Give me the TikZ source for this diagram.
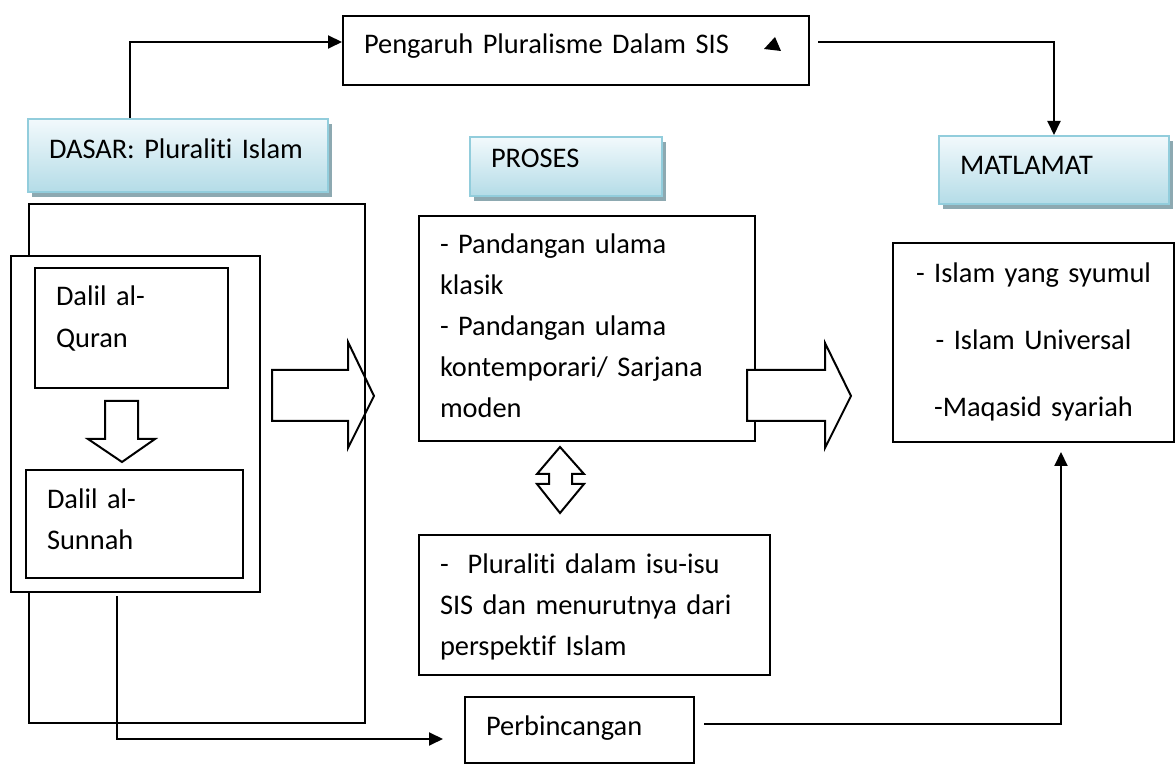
\documentclass[tikz,border=0pt]{standalone}
\usepackage{fontspec}
\setmainfont[Ligatures=NoCommon]{Carlito}
\usetikzlibrary{arrows.meta}
\usetikzlibrary{shadows}
\definecolor{tepi}{HTML}{92CDDC}
\definecolor{atas}{HTML}{F2F9FC}
\definecolor{bawah}{HTML}{B4DCE7}
\definecolor{bayang}{HTML}{8DA9B1}
\tikzset{
  kotak/.style={draw, line width=1pt, fill=white, anchor=north west, inner xsep=10.5pt, inner ysep=0pt,
    text height=19.5pt, align=left, font=\fontsize{14.2}{20.5}\selectfont},
  tajuk/.style={draw=tepi, line width=1pt, top color=atas, bottom color=bawah,
    drop shadow={shadow xshift=2pt, shadow yshift=-2.5pt, fill=bayang, opacity=1},
    anchor=north west, inner xsep=10.5pt, inner ysep=0pt, align=left, font=\fontsize{14.2}{20.5}\selectfont},
  bingkai/.style={draw, line width=1pt, anchor=north west, inner sep=0pt},
  panah/.style={line width=1pt, -{Triangle[length=7pt,width=6.5pt]}},
  blok/.style={line width=1pt, line join=miter}
}

\begin{document}
\begin{tikzpicture}[x=0.5pt,y=-0.5pt]
    \useasboundingbox (0,0) rectangle (1175,764);
    % top box
    \node[kotak, text width=212pt, text height=19pt, text depth=15.5pt] (pengaruh) at (342,15) {Pengaruh Pluralisme Dalam SIS};
    \fill (775,37) -- (764,49) -- (781,51) -- cycle;
    % headings
    \node[tajuk, text width=129pt, text height=20pt, text depth=16.5pt] (dasar) at (27,118) {DASAR: Pluraliti Islam};
    \node[tajuk, text width=75pt, text height=15.5pt, text depth=14pt] (proses) at (469,136) {PROSES};
    \node[tajuk, text width=94pt, text height=19.5pt, text depth=14.5pt] (matlamat) at (938,135) {MATLAMAT};
    % column 1
    \draw[blok] (272,370) -- (348,370) -- (348,342) -- (374,396) -- (348,448) -- (348,421) -- (272,421) -- cycle;
    \node[bingkai, minimum width=168pt, minimum height=259.5pt] (kerangka) at (28,203) {};
    \node[bingkai, fill=white, minimum width=124.5pt, minimum height=168pt] (dalil) at (10,255) {};
    \node[kotak, text width=75.5pt, text height=19pt, text depth=41pt] (quran) at (34,267) {Dalil al-\\[0.5pt]Quran};
    \draw[blok] (105,401) -- (138,401) -- (138,439) -- (155,439) -- (122,462) -- (88,439) -- (105,439) -- cycle;
    \node[kotak, text width=87.5pt, text depth=34.5pt] (sunnah) at (25,469) {Dalil al-\\Sunnah};
    % column 2
    \node[kotak, text width=147pt, text height=19pt, text depth=93.5pt] (pandangan) at (418,215)
        {- Pandangan ulama\\klasik\\- Pandangan ulama\\kontemporari/ Sarjana\\moden};
    \draw[blok, fill=white] (747,370) -- (825,370) -- (825,343) -- (851,396) -- (825,448) -- (825,421) -- (747,421) -- cycle;
    \draw[blok] (560,447) -- (584,474) -- (572,474) -- (572,484) -- (584,484) -- (560,513)
        -- (537,484) -- (549,484) -- (549,474) -- (537,474) -- cycle;
    \node[kotak, text width=154.5pt, text depth=50.5pt] (isu) at (418,534)
        {-\ \ Pluraliti dalam isu-isu\\SIS dan menurutnya dari\\perspektif Islam};
    \node[kotak, text width=93.5pt, text depth=13.5pt] (perb) at (464,696) {Perbincangan};
    % column 3
    \node[kotak, align=center, text width=119.5pt, text height=20pt, text depth=79.5pt] (tujuan) at (892,242)
        {- Islam yang syumul\\[13pt]- Islam Universal\\[13pt]-Maqasid syariah};
    % connectors
    \draw[panah] ([xshift=51.5pt]dasar.north west) |- ([yshift=4.25pt]pengaruh.west);
    \draw[panah] ([xshift=4pt,yshift=4.25pt]pengaruh.east) -| (matlamat.north);
    \draw[panah] ([xshift=-9.25pt,yshift=-1.5pt]dalil.south) |- ([xshift=-10.5pt,yshift=-4.5pt]perb.west);
    \draw[panah] ([xshift=4.5pt,yshift=3pt]perb.east) -| ([xshift=13.75pt,yshift=-4.5pt]tujuan.south);
\end{tikzpicture}
\end{document}
